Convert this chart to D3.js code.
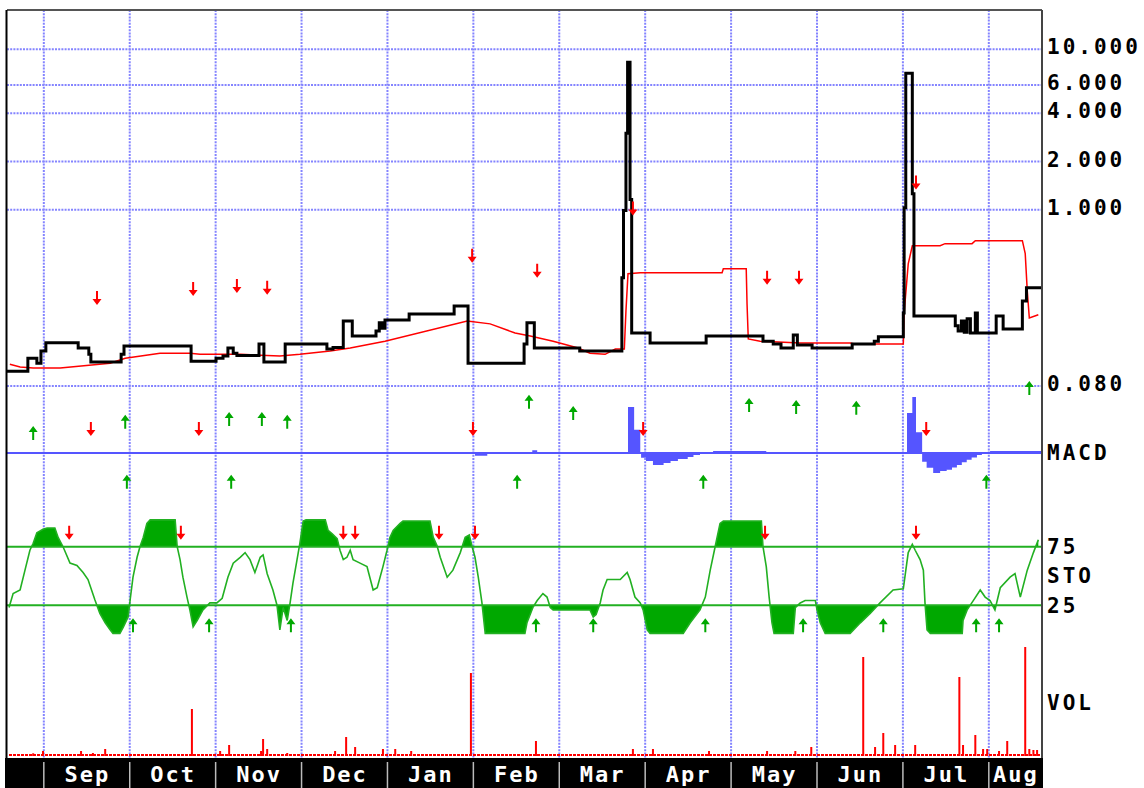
<!DOCTYPE html>
<html><head><meta charset="utf-8">
<script src="https://cdn.jsdelivr.net/npm/d3@7"></script>
<style>body{margin:0;background:#fff;} svg{display:block;}</style>
</head><body><svg id="chart" width="1144" height="788"></svg>
<script>
// ---------- DATA ----------
const nBars = 253;
const months = ["Sep","Oct","Nov","Dec","Jan","Feb","Mar","Apr","May","Jun","Jul","Aug"];
const monthStart = [9,30,51,72,93,114,135,156,177,198,219,240];
const priceTicks = [10,6,4,2,1,0.08];
const stoLevels = [75,25];

// price close (bar index, value)
const price = [[0,0.099],[5.1,0.119],[7.3,0.111],[8.3,0.132],[9.5,0.149],[17.4,0.138],[20,0.126],[20.5,0.113],[27.9,0.126],[28.6,0.142],[45,0.114],[51.1,0.119],[52.8,0.123],[54,0.138],[55.3,0.128],[56.2,0.124],[61.6,0.146],[62.8,0.113],[68,0.146],[78.2,0.136],[79.7,0.139],[82.2,0.203],[84.4,0.164],[90.2,0.176],[91,0.198],[91.7,0.183],[92.4,0.206],[98.3,0.225],[109.3,0.252],[112.7,0.111],[126.4,0.146],[127.1,0.198],[128.9,0.138],[140,0.132],[150.3,0.378],[150.7,0.99],[151.3,3.0],[151.7,8.3],[152.3,1.16],[152.7,0.171],[157.2,0.148],[170.9,0.164],[184.8,0.152],[187.3,0.146],[189.2,0.138],[192.2,0.166],[193.2,0.144],[196.8,0.138],[206.6,0.146],[212,0.152],[213,0.162],[219.1,0.228],[219.3,1.03],[219.7,7.1],[221.3,1.26],[221.7,0.218],[231.8,0.19],[232.5,0.176],[233.3,0.203],[234,0.173],[234.7,0.21],[235.5,0.171],[236.7,0.228],[237.2,0.171],[241.8,0.218],[243.5,0.181],[248.2,0.271],[249.2,0.327],[253,0.327]];

// moving average (red)
const priceMA = [[0.7,0.1094],[3.2,0.105],[6.4,0.1035],[13,0.1035],[25.2,0.111],[28.9,0.119],[37.4,0.128],[44.7,0.128],[47.2,0.126],[57,0.126],[66.7,0.123],[71.6,0.126],[79,0.132],[83.9,0.138],[92.4,0.152],[112.5,0.203],[118.1,0.195],[124.2,0.171],[127.9,0.164],[133.5,0.152],[139.6,0.138],[142.5,0.128],[146.2,0.126],[148.7,0.136],[150.9,0.136],[151.3,0.235],[151.8,0.400],[154.8,0.406],[174.8,0.406],[175.1,0.430],[180.7,0.430],[180.9,0.259],[181.2,0.157],[184.1,0.152],[193.9,0.148],[206.1,0.148],[207.3,0.146],[219.1,0.146],[219.3,0.228],[220.3,0.461],[221.3,0.598],[228.1,0.598],[229.3,0.616],[235.9,0.616],[236.7,0.643],[248.2,0.643],[248.9,0.534],[249.4,0.313],[249.9,0.212],[252.1,0.222]];

// MACD histogram
const macd = [[0,0],[114.4,-0.07],[117.4,0],[128.4,0.07],[129.6,0],[151.8,1.15],[153.3,0.58],[154.8,0],[155,-0.12],[156.2,-0.2],[157.9,-0.3],[160.5,-0.25],[162.2,-0.2],[164,-0.15],[166.4,-0.1],[167.8,-0.05],[169.4,0],[172.6,0.05],[185.6,0],[220,1.0],[221.3,1.4],[222.2,0.52],[223.7,-0.22],[224.8,-0.37],[226.4,-0.5],[228.1,-0.45],[229.7,-0.42],[231,-0.36],[232.2,-0.3],[233.4,-0.23],[234.6,-0.17],[235.8,-0.11],[237.1,-0.05],[238.3,0],[240.3,0.05],[253,0.05]];

// stochastic
const sto = [[0.5,23],[1.5,35],[3.2,38],[4.4,55],[5.6,72],[6.4,78],[7.3,87],[8.8,90],[9.8,91],[11.7,91],[12.5,83],[13.7,75],[15.4,61],[17.1,59],[18.6,53],[19.8,47],[21.5,29.5],[22.7,18],[24,10],[25.2,4],[25.9,1],[27.6,1],[28.4,6],[29.6,15],[30.1,29.5],[30.8,49],[31.8,66],[32.5,75],[33.3,83],[34.2,95],[35,98],[41.1,98],[41.6,75],[42.3,64],[43,49],[44,32],[44.7,21],[45.5,6.5],[46.5,12],[47.9,21],[49.6,27],[51.3,27],[52.6,31],[54,49],[55.3,61],[57,66],[58.2,70],[59.4,64],[60.6,53],[61.9,66],[62.6,68],[63.6,52],[65,38],[66,25],[66.7,4],[67.5,23],[68.5,12],[69.2,27],[69.9,44],[70.9,64],[71.6,78],[72.4,97],[73.1,98],[77.8,98],[78.5,89],[79.5,86],[80.7,82],[81.4,72],[82.2,64],[83.1,66],[83.9,72],[84.6,64],[86.3,61],[88,58],[89.5,38],[90.5,40],[91.9,58],[92.9,72],[93.6,83],[94.4,89],[96.1,95],[96.8,97],[103.4,97],[104.2,83],[105.1,76],[105.9,66],[107.6,49],[109,55],[110.8,70],[112,83],[113,85],[113.7,75],[114.4,66],[115.2,49],[116.1,27],[116.9,1],[126.6,1],[127.1,10],[128.6,23.5],[129.6,29],[131,35],[132,32],[132.8,23],[133.5,21],[142.5,21],[143.3,15],[144,17],[145,27],[145.7,38],[146.7,47],[149.9,47],[151.6,53],[152.3,47],[153.5,32],[154.8,27],[155.5,21],[156.5,4],[157.2,1],[165.3,1],[167,10],[169.4,21],[170.7,32],[171.9,55],[173.1,75],[174.3,95],[175.1,97],[184.4,97],[184.8,75],[185.6,58],[186.3,32],[187,10],[187.5,1],[192.2,1],[192.7,23],[193.9,27],[195.1,29],[197.6,29],[198,21],[198.8,10],[200,1],[206.1,1],[208.6,10],[211,18],[213.4,27],[216.6,38],[219.1,39],[219.6,52],[220.3,70],[221.3,77],[222,72],[223.2,64],[224,55],[224.4,27],[224.9,4],[225.7,1],[233.5,1],[233.7,12],[234.7,21],[236.2,29],[237.9,38],[239.1,32],[240.3,29],[241.5,21],[242.8,40],[245.2,49],[246.4,52],[247.7,32],[249.4,55],[250.9,70],[252.1,81]];

// volume
const volume = [[6.4,2.7],[8.8,5],[18.1,5],[21,3],[24,7],[45.2,47],[52.1,5],[54.3,11],[62.1,5],[62.6,17],[63.6,7],[68.5,3],[80.2,5],[82.9,19],[85.1,9],[91.9,7],[94.9,7],[98.8,5],[113.4,83],[129.3,15],[153,7],[157.9,7],[171.6,5],[185.8,5],[192.7,5],[196.6,9],[209.3,99],[212.2,9],[214.2,23],[217.1,11],[222,11],[232.8,79],[233.7,11],[236.7,21],[238.6,7],[239.6,7],[242.5,5],[244.5,15],[248.9,109],[249.9,7],[250.9,6],[251.8,6]];

// signals
const priceSell = [[22,0.283],[45.5,0.322],[56.2,0.336],[63.6,0.327],[113.7,0.518],[129.6,0.418],[153,1.02],[185.8,0.378],[193.6,0.378],[222.2,1.48]];
const priceBuy = [[249.9,0.0776]];
const macdBuy = [[6.4,0.5],[28.9,0.78],[54.3,0.85],[62.3,0.85],[68.5,0.78],[127.6,1.28],[138.4,1.0],[181.4,1.2],[192.9,1.15],[207.6,1.13],[29.3,-0.72],[54.8,-0.72],[124.7,-0.72],[170.2,-0.72],[239.4,-0.72]];
const macdSell = [[20.5,0.6],[46.9,0.6],[113.9,0.6],[155.5,0.6],[224.7,0.6]];
const stoSell = [[15.2,87],[42.5,87],[82.2,87],[85.1,87],[105.6,87],[114.4,87],[185.3,87],[222.2,87]];
const stoBuy = [[30.8,8],[49.4,8],[69.4,8],[129.3,8],[143.3,8],[170.7,8],[194.6,8],[214.2,8],[236.9,8],[242.5,8]];

// ---------- CHART ----------
const svg = d3.select("#chart");
const L = 7, R = 1042, T = 10, B = 758;
const x = d3.scaleLinear().domain([0, nBars]).range([L, R]);
const yPrice = d3.scaleLog().domain([0.08, 10]).range([386, 49.3]);
const yMacd = d3.scaleLinear().domain([-1, 1]).range([493, 413]);
const ySto = d3.scaleLinear().domain([0, 100]).range([634.5, 517.5]);
const yVol = d3.scaleLinear().domain([0, 120]).range([756, 636]);

const GRID = "#8484ff", RED = "#ff0000", GREEN = "#00a800", BLUE = "#5555ff";
const FONT = "'DejaVu Sans Mono', monospace";

// grid
svg.append("g").selectAll("line").data(monthStart).join("line")
  .attr("x1", d => x(d)).attr("x2", d => x(d)).attr("y1", T).attr("y2", B)
  .attr("stroke", GRID).attr("stroke-width", 2).attr("stroke-dasharray", "2,1.2");
svg.append("g").selectAll("line").data(priceTicks).join("line")
  .attr("x1", L).attr("x2", R).attr("y1", d => yPrice(d)).attr("y2", d => yPrice(d))
  .attr("stroke", GRID).attr("stroke-width", 2).attr("stroke-dasharray", "2,1.2");

// price MA and price
svg.append("path").datum(priceMA)
  .attr("d", d3.line().x(d => x(d[0])).y(d => yPrice(d[1])))
  .attr("fill", "none").attr("stroke", RED).attr("stroke-width", 1.5);
svg.append("path").datum(price)
  .attr("d", d3.line().curve(d3.curveStepAfter).x(d => x(d[0])).y(d => yPrice(d[1])))
  .attr("fill", "none").attr("stroke", "#000").attr("stroke-width", 3);

// MACD
svg.append("path").datum(macd)
  .attr("d", d3.area().curve(d3.curveStepAfter).x(d => x(d[0])).y0(yMacd(0)).y1(d => yMacd(d[1])))
  .attr("fill", BLUE);
svg.append("line").attr("x1", L).attr("x2", R).attr("y1", yMacd(0)).attr("y2", yMacd(0))
  .attr("stroke", BLUE).attr("stroke-width", 2);

// STO
const defs = svg.append("defs");
defs.append("clipPath").attr("id", "clipHi").append("rect")
  .attr("x", L).attr("y", 0).attr("width", R - L).attr("height", ySto(75));
defs.append("clipPath").attr("id", "clipLo").append("rect")
  .attr("x", L).attr("y", ySto(25)).attr("width", R - L).attr("height", 800);
svg.append("path").datum(sto).attr("clip-path", "url(#clipHi)")
  .attr("d", d3.area().x(d => x(d[0])).y0(ySto(75)).y1(d => ySto(d[1])))
  .attr("fill", GREEN);
svg.append("path").datum(sto).attr("clip-path", "url(#clipLo)")
  .attr("d", d3.area().x(d => x(d[0])).y0(ySto(25)).y1(d => ySto(d[1])))
  .attr("fill", GREEN);
svg.append("g").selectAll("line").data(stoLevels).join("line")
  .attr("x1", L).attr("x2", R).attr("y1", d => ySto(d)).attr("y2", d => ySto(d))
  .attr("stroke", "#22b022").attr("stroke-width", 2);
svg.append("path").datum(sto)
  .attr("d", d3.line().x(d => x(d[0])).y(d => ySto(d[1])))
  .attr("fill", "none").attr("stroke", "#22b022").attr("stroke-width", 1.6);

// volume
svg.append("line").attr("x1", L + 2).attr("x2", R - 2).attr("y1", yVol(0) - 1).attr("y2", yVol(0) - 1)
  .attr("stroke", RED).attr("stroke-width", 2).attr("stroke-dasharray", "3,1");
svg.append("g").selectAll("rect").data(volume).join("rect")
  .attr("x", d => x(d[0]) - 1).attr("width", 2)
  .attr("y", d => yVol(d[1])).attr("height", d => yVol(0) - yVol(d[1]))
  .attr("fill", RED);

// arrows
function arrows(data, yScale, dir, color) {
  svg.append("g").selectAll("path").data(data).join("path")
    .attr("d", d => {
      const cx = x(d[0]), cy = yScale(d[1]);
      return dir === "down"
        ? `M${cx-1},${cy-7}h2v8h3.5l-4.5,6l-4.5,-6h3.5z`
        : `M${cx-1},${cy+7}h2v-8h3.5l-4.5,-6l-4.5,6h3.5z`;
    })
    .attr("fill", color);
}
arrows(priceSell, yPrice, "down", RED);
arrows(priceBuy, yPrice, "up", GREEN);
arrows(macdBuy, yMacd, "up", GREEN);
arrows(macdSell, yMacd, "down", RED);
arrows(stoSell, ySto, "down", RED);
arrows(stoBuy, ySto, "up", GREEN);

// frame
svg.append("line").attr("x1", L).attr("x2", R).attr("y1", T).attr("y2", T).attr("stroke", "#555").attr("stroke-width", 2);
svg.append("line").attr("x1", L - 0.5).attr("x2", L - 0.5).attr("y1", T).attr("y2", B).attr("stroke", "#000").attr("stroke-width", 2);
svg.append("line").attr("x1", R).attr("x2", R).attr("y1", T).attr("y2", B).attr("stroke", "#444").attr("stroke-width", 2);

// bottom band and month axis
svg.append("rect").attr("x", 5).attr("y", B).attr("width", R - 5 + 1).attr("height", 788 - B).attr("fill", "#000");
svg.append("g").selectAll("line").data(monthStart).join("line")
  .attr("x1", d => x(d)).attr("x2", d => x(d)).attr("y1", B + 4).attr("y2", 788)
  .attr("stroke", "#bbb").attr("stroke-width", 1.5);
const monthCenters = monthStart.map((m, i) => (m + (i < monthStart.length - 1 ? monthStart[i + 1] : nBars)) / 2);
const xAxis = svg.append("g").attr("transform", `translate(0,${B})`)
  .call(d3.axisBottom(x).tickValues(monthCenters).tickFormat((d, i) => months[i]).tickSize(0).tickPadding(8));
xAxis.select(".domain").remove();
xAxis.selectAll("text").attr("fill", "#fff").attr("font-family", FONT).attr("font-weight", "bold")
  .attr("font-size", 22).attr("letter-spacing", 2);

// right price axis
const yAxis = svg.append("g").attr("transform", `translate(${R},0)`)
  .call(d3.axisRight(yPrice).tickValues(priceTicks).tickFormat(d3.format(".3f")).tickSize(0).tickPadding(5));
yAxis.select(".domain").remove();
yAxis.selectAll("text").attr("dy", "0.22em").attr("fill", "#000").attr("font-family", FONT)
  .attr("font-weight", "bold").attr("font-size", 21).attr("letter-spacing", 3);

// panel labels
const labels = [["MACD", yMacd(0)], ["75", ySto(75)], ["STO", ySto(50)], ["25", ySto(25)], ["VOL", yVol(53)]];
svg.append("g").selectAll("text").data(labels).join("text")
  .attr("x", R + 5).attr("y", d => d[1]).attr("dy", "0.35em")
  .attr("font-family", FONT).attr("font-weight", "bold").attr("font-size", 21).attr("letter-spacing", 3)
  .attr("fill", "#000").text(d => d[0]);
</script></body></html>
